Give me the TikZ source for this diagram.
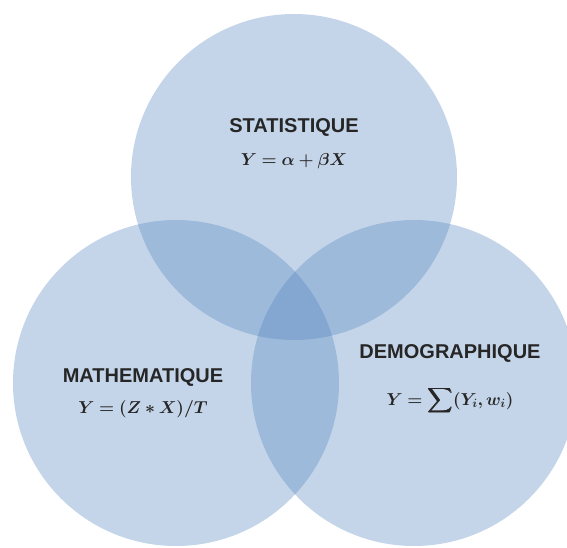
\documentclass[tikz,border=0pt]{standalone}
\usepackage{amsmath}
\usepackage{bm}
\usepackage[no-math]{fontspec}
\setmainfont{Liberation Sans}
\usepackage{tikz}
\usetikzlibrary{positioning, calc}
\definecolor{vennblue}{RGB}{79,129,189}
\tikzset{
  venn disc/.style={
    fill=vennblue,
    fill opacity=0.33
  },
  domain label/.style={
    font=\bfseries\fontsize{20}{24}\selectfont,
    text=black!85,
    inner sep=0pt
  },
  model eq/.style={
    font=\fontsize{18}{22}\selectfont,
    text=black!85,
    inner sep=0pt
  }
}

\begin{document}
\begin{tikzpicture}[x=1pt, y=-1pt]
    % cadre de l'image (1 unite = 1 pixel, y vers le bas)
    \useasboundingbox (0,0) rectangle (567,547);

    % les trois disques
    \fill[venn disc] (294,177) circle (163);
    \fill[venn disc] (176,383) circle (163);
    \fill[venn disc] (414,383) circle (163);

    % statistique
    \node[domain label, anchor=base] (stat) at (294,132) {STATISTIQUE};
    \node[model eq, anchor=base] (stat eq) at ([yshift=-33pt]stat.base) {$\bm{Y = \alpha + \beta X}$};

    % mathematique
    \node[domain label, anchor=base] (math) at (143,382) {MATHEMATIQUE};
    \node[model eq, anchor=base] (math eq) at ([yshift=-31pt]math.base) {$\bm{Y = (Z * X)/T}$};

    % demographie
    \node[domain label, anchor=base] (demo) at (450,358) {DEMOGRAPHIQUE};
    \node[model eq, anchor=base] (demo eq) at ([yshift=-47pt]demo.base) {$\bm{Y = \displaystyle\sum (Y_i, w_i)}$};

  \end{tikzpicture}
\end{document}
